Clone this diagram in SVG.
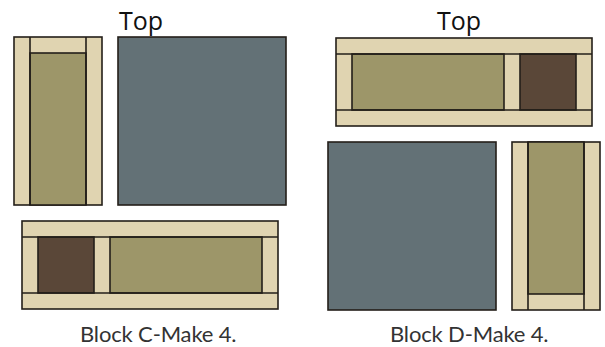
<svg xmlns="http://www.w3.org/2000/svg" width="605" height="347" viewBox="0 0 605 347">
<style>
.s{stroke:#231f1a;stroke-width:1.6;stroke-linejoin:miter}
.c{fill:#e0d4b1}.o{fill:#9d9669}.b{fill:#5a4738}.g{fill:#637176}
.top{font-family:"Open Sans",sans-serif;font-size:25px;fill:#111}
.cap{font-family:"Lato","Noto Sans",sans-serif;font-size:22px;letter-spacing:-.15px;fill:#333}
</style>
<rect width="605" height="347" fill="#fff"/>
<text class="top" x="119" y="30">Top</text>
<text class="top" x="437" y="30">Top</text>
<g id="block-c-strip">
<rect class="c s" x="14" y="37" width="88" height="168"/>
<rect class="o s" x="30" y="53" width="56" height="152"/>
<path class="s" fill="none" d="M30 37V205M86 37V205"/>
</g>
<g id="block-c-square"><rect class="g s" x="118" y="37" width="168" height="168"/></g>
<g id="block-c-bar">
<rect class="c s" x="22" y="221" width="256" height="88"/>
<rect class="b s" x="38" y="237" width="56" height="56"/>
<rect class="o s" x="110" y="237" width="152" height="56"/>
<path class="s" fill="none" d="M22 237H278M22 293H278"/>
</g>
<g id="block-d-bar">
<rect class="c s" x="336" y="38" width="256" height="88"/>
<rect class="o s" x="352" y="54" width="152" height="56"/>
<rect class="b s" x="520" y="54" width="56" height="56"/>
<path class="s" fill="none" d="M336 54H592M336 110H592"/>
</g>
<g id="block-d-square"><rect class="g s" x="328" y="142" width="168" height="168"/></g>
<g id="block-d-strip">
<rect class="c s" x="512" y="142" width="88" height="168"/>
<rect class="o s" x="528" y="142" width="56" height="152"/>
<path class="s" fill="none" d="M528 142V310M584 142V310"/>
</g>
<text class="cap" x="80" y="342">Block C-Make 4.</text>
<text class="cap" x="390" y="342.3">Block D-Make 4.</text>
</svg>
